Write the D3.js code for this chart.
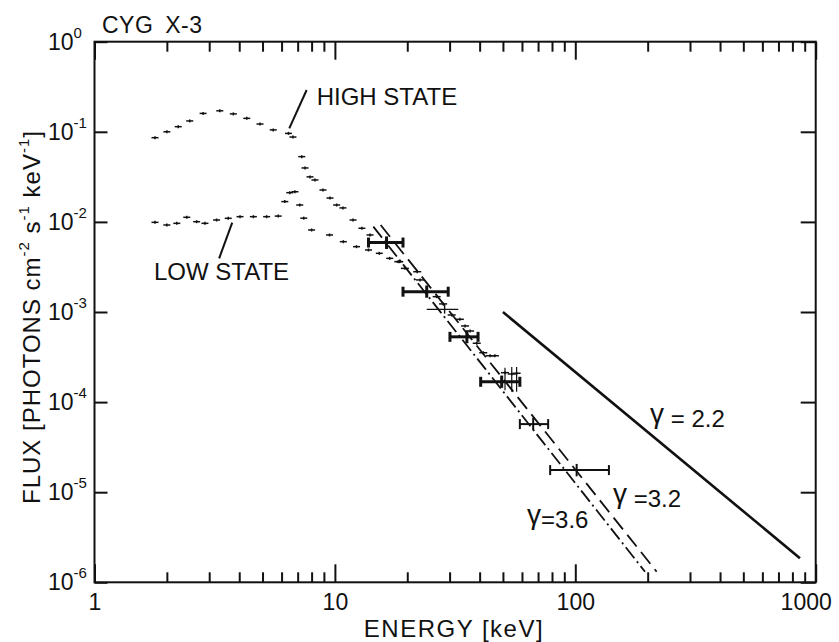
<!DOCTYPE html>
<html>
<head>
<meta charset="utf-8">
<script src="https://cdn.jsdelivr.net/npm/d3@7"></script>
<style>
  body { margin: 0; background: #fff; }
  text { font-family: 'Liberation Sans', Arial, sans-serif; fill: #111; }
</style>
</head>
<body>
<svg id="chart" width="839" height="642"></svg>
<script>
// high state spectrum (keV, photons cm-2 s-1 keV-1)
const highE = [1.785, 2.0, 2.23, 2.49, 2.83, 3.32, 3.78, 4.30, 4.88, 5.54, 6.41, 6.69,
  7.28, 7.51, 7.88, 8.26, 8.92, 9.54, 10.17, 10.8, 11.9, 12.95, 14.0];
const highF = [0.086, 0.100, 0.114, 0.132, 0.160, 0.171, 0.158, 0.141, 0.122, 0.105, 0.096, 0.0875,
  0.053, 0.0397, 0.0316, 0.0292, 0.0226, 0.0184, 0.0154, 0.0143, 0.0105, 0.0085, 0.00716];

// low state spectrum
const lowE = [1.785, 2.0, 2.2, 2.42, 2.66, 2.88, 3.22, 3.60, 4.03, 4.58, 5.20, 5.81,
  6.19, 6.49, 6.82, 7.14, 7.42, 8.0, 9.5, 10.84, 12.3, 13.8, 15.3, 16.9, 18.6];
const lowF = [0.00989, 0.00924, 0.00964, 0.01125, 0.01005, 0.00964, 0.0105, 0.01096, 0.01143, 0.01143, 0.01143, 0.0116,
  0.0168, 0.0211, 0.0216, 0.0154, 0.0110, 0.00813, 0.00716, 0.00603, 0.00531, 0.00488, 0.00448, 0.00394, 0.00362];

// small hard x-ray points
const hardE = [18.35, 19.56, 22.0, 22.6, 26.5, 28.2, 30.6, 33.1, 34.8, 36.5, 38.9, 41.4, 44.2, 46.3, 51.0, 54.4, 57.0];
const hardF = [3.62e-3, 3.05e-3, 2.80e-3, 2.27e-3, 1.48e-3, 1.23e-3, 9.27e-4, 8.3e-4, 7.0e-4, 6.15e-4,
  4.5e-4, 3.53e-4, 3.27e-4, 3.27e-4, 2.12e-4, 2.05e-4, 2.09e-4];
const hardErrE = [51.0, 54.4, 57.0];
const hardErrLo = [1.35e-4, 1.3e-4, 1.3e-4];
const hardErrHi = [2.4e-4, 2.45e-4, 2.45e-4];

// big error bar points
const barE = [16.4, 24.1, 35.4, 49.4, 66.8, 101.3];
const barF = [5.9e-3, 1.68e-3, 5.3e-4, 1.68e-4, 5.7e-5, 1.76e-5];
const barELo = [13.8, 19.2, 30.1, 40.4, 58.8, 78.6];
const barEHi = [19.2, 29.6, 39.4, 58.8, 77.1, 138];
const barFLo = [5.0e-3, 1.44e-3, 4.5e-4, 1.44e-4, 4.9e-5, 1.5e-5];
const barFHi = [6.9e-3, 1.97e-3, 6.2e-4, 1.97e-4, 6.7e-5, 2.06e-5];

// one thin cross without caps
const thinE = [28.6], thinF = [1.07e-3], thinELo = [24.1], thinEHi = [32.6];
const thinFLo = [9.6e-4], thinFHi = [1.2e-3];

// power law lines, end points
const law22E = [50, 860], law22F = [1.0e-3, 1.85e-6];
const law32E = [15.5, 218], law32F = [9.24e-3, 1.31e-6];
const law36E = [14.45, 195], law36F = [8.85e-3, 1.31e-6];

const xMajor = [1, 10, 100, 1000];
const xMinor = [2, 3, 4, 5, 6, 7, 8, 9, 20, 30, 40, 50, 60, 70, 80, 90, 200, 300, 400, 500, 600, 700, 800, 900];
const yDecades = [1, 1e-1, 1e-2, 1e-3, 1e-4, 1e-5, 1e-6];
const yExps = ['0', '-1', '-2', '-3', '-4', '-5', '-6'];

const svg = d3.select('#chart');
const x = d3.scaleLog().domain([1, 1000]).range([94.5, 815.7]);
const y = d3.scaleLog().domain([1e-6, 1]).range([582.3, 41.7]);
const plotTop = y(1), plotBottom = y(1e-6), plotLeft = x(1), plotRight = x(1000);

const styleAxis = (g) => {
  g.select('.domain').remove();
  g.selectAll('.tick line').attr('stroke', '#111').attr('stroke-width', 2);
  g.selectAll('.tick text').attr('font-size', 23).attr('fill', '#111')
    .attr('font-family', "'Liberation Sans', Arial, sans-serif");
};

// axes, ticks pointing inward
svg.append('g').attr('transform', `translate(0,${plotBottom})`)
  .call(d3.axisBottom(x).tickValues(xMajor).tickSize(-18).tickPadding(11).tickFormat(d3.format('d')))
  .call(styleAxis)
  .call(g => g.selectAll('.tick text').filter(d => d === 1000).attr('dx', -10));
svg.append('g').attr('transform', `translate(0,${plotBottom})`)
  .call(d3.axisBottom(x).tickValues(xMinor).tickSize(-10).tickFormat(''))
  .call(styleAxis);
svg.append('g').attr('transform', `translate(0,${plotTop})`)
  .call(d3.axisTop(x).tickValues(xMajor).tickSize(-18).tickFormat(''))
  .call(styleAxis);
svg.append('g').attr('transform', `translate(0,${plotTop})`)
  .call(d3.axisTop(x).tickValues(xMinor).tickSize(-10).tickFormat(''))
  .call(styleAxis);
svg.append('g').attr('transform', `translate(${plotLeft},0)`)
  .call(d3.axisLeft(y).tickValues(yDecades).tickSize(-13).tickFormat(''))
  .call(styleAxis);
svg.append('g').attr('transform', `translate(${plotRight},0)`)
  .call(d3.axisRight(y).tickValues(yDecades).tickSize(-15).tickFormat(''))
  .call(styleAxis);

svg.append('rect')
  .attr('x', plotLeft).attr('y', plotTop)
  .attr('width', plotRight - plotLeft).attr('height', plotBottom - plotTop)
  .attr('fill', 'none').attr('stroke', '#111').attr('stroke-width', 2);

// y tick labels 10^n
const yLab = svg.append('g').selectAll('text').data(yDecades).enter().append('text')
  .attr('x', 48).attr('y', d => y(d) + 8).attr('font-size', 23);
yLab.append('tspan').text('10');
yLab.append('tspan').attr('dy', -12).attr('font-size', 15).text((d, i) => yExps[i]);

// axis titles
svg.append('text').attr('x', 454).attr('y', 637).attr('text-anchor', 'middle')
  .attr('font-size', 24).attr('letter-spacing', 1.5).text('ENERGY [keV]');

const yt = svg.append('text')
  .attr('transform', 'translate(40,317) rotate(-90)')
  .attr('text-anchor', 'middle').attr('font-size', 24).attr('letter-spacing', 1);
yt.append('tspan').text('FLUX [PHOTONS cm');
yt.append('tspan').attr('font-size', 15).attr('dy', -11).text('-2');
yt.append('tspan').attr('dy', 11).text(' s');
yt.append('tspan').attr('font-size', 15).attr('dy', -11).text('-1');
yt.append('tspan').attr('dy', 11).text(' keV');
yt.append('tspan').attr('font-size', 15).attr('dy', -11).text('-1');
yt.append('tspan').attr('dy', 11).text(']');

svg.append('text').attr('x', 102).attr('y', 33).attr('font-size', 23)
  .attr('letter-spacing', 0.5).attr('word-spacing', 5).text('CYG X-3');

// power laws
const lawLine = d3.line().x(d => x(d[0])).y(d => y(d[1]));
const drawLaw = (es, fs, dash) => svg.append('path')
  .datum(es.map((e, i) => [e, fs[i]]))
  .attr('d', lawLine).attr('fill', 'none').attr('stroke', '#111')
  .attr('stroke-width', dash ? 1.8 : 2.6)
  .attr('stroke-dasharray', dash);
drawLaw(law22E, law22F, null);
drawLaw(law32E, law32F, '15,7');
drawLaw(law36E, law36F, '14,4,2,4');

// state spectra as short bin marks
const drawBins = (es, fs, half) => {
  const g = svg.append('g').attr('stroke', '#111').attr('stroke-width', 1.5);
  g.selectAll('line.h').data(es).enter().append('line')
    .attr('x1', d => x(d) - half).attr('x2', d => x(d) + half)
    .attr('y1', (d, i) => y(fs[i])).attr('y2', (d, i) => y(fs[i]));
  g.selectAll('line.v').data(es).enter().append('line')
    .attr('x1', d => x(d)).attr('x2', d => x(d))
    .attr('y1', (d, i) => y(fs[i]) - 1.5).attr('y2', (d, i) => y(fs[i]) + 1.5);
};
drawBins(highE, highF, 3.5);
drawBins(lowE, lowF, 3.5);
drawBins(hardE, hardF, 4);

svg.append('g').attr('stroke', '#111').attr('stroke-width', 1.2)
  .selectAll('line').data(hardErrE).enter().append('line')
  .attr('x1', d => x(d)).attr('x2', d => x(d))
  .attr('y1', (d, i) => y(hardErrLo[i])).attr('y2', (d, i) => y(hardErrHi[i]));

// error bars, caps optional
const drawBars = (es, fs, lo, hi, flo, fhi, widthOf, caps) => {
  const g = svg.append('g').attr('stroke', '#111');
  const bar = g.selectAll('g').data(es).enter().append('g')
    .attr('stroke-width', (d, i) => widthOf(i));
  bar.append('line')
    .attr('x1', (d, i) => x(lo[i])).attr('x2', (d, i) => x(hi[i]))
    .attr('y1', (d, i) => y(fs[i])).attr('y2', (d, i) => y(fs[i]));
  if (caps) {
    bar.append('line')
      .attr('x1', (d, i) => x(lo[i])).attr('x2', (d, i) => x(lo[i]))
      .attr('y1', (d, i) => y(fs[i]) - 5).attr('y2', (d, i) => y(fs[i]) + 5);
    bar.append('line')
      .attr('x1', (d, i) => x(hi[i])).attr('x2', (d, i) => x(hi[i]))
      .attr('y1', (d, i) => y(fs[i]) - 5).attr('y2', (d, i) => y(fs[i]) + 5);
  }
  bar.append('line')
    .attr('x1', d => x(d)).attr('x2', d => x(d))
    .attr('y1', (d, i) => y(flo[i])).attr('y2', (d, i) => y(fhi[i]));
};
drawBars(barE, barF, barELo, barEHi, barFLo, barFHi, i => (i < 4 ? 3 : 2), true);
drawBars(thinE, thinF, thinELo, thinEHi, thinFLo, thinFHi, () => 1.4, false);

// labels and leader lines, placed in data coordinates
const labels = [
  { text: 'HIGH STATE', e: 8.40, f: 0.198 },
  { text: 'LOW STATE', e: 1.768, f: 2.26e-3 },
];
svg.append('g').selectAll('text').data(labels).enter().append('text')
  .attr('x', d => x(d.e)).attr('y', d => y(d.f))
  .attr('font-size', 24).text(d => d.text);

// gamma labels: raised gamma, then the value
const gammaLabels = [
  { value: ' = 2.2', e: 204.6, f: 5.3e-5 },
  { value: ' =3.2', e: 143.5, f: 6.86e-6 },
  { value: '=3.6', e: 63.0, f: 4.0e-6 },
];
const gl = svg.append('g').selectAll('text').data(gammaLabels).enter().append('text')
  .attr('x', d => x(d.e)).attr('y', d => y(d.f)).attr('font-size', 24);
gl.append('tspan').attr('font-size', 28).attr('dy', -4).text('γ');
gl.append('tspan').attr('dy', 4).text(d => d.value);

const leaders = [
  [[7.63, 0.291], [6.46, 0.109]],
  [[3.74, 9.8e-3], [3.30, 3.94e-3]],
];
svg.append('g').selectAll('path').data(leaders).enter().append('path')
  .attr('d', lawLine).attr('stroke', '#111').attr('stroke-width', 2).attr('fill', 'none');
</script>
</body>
</html>
